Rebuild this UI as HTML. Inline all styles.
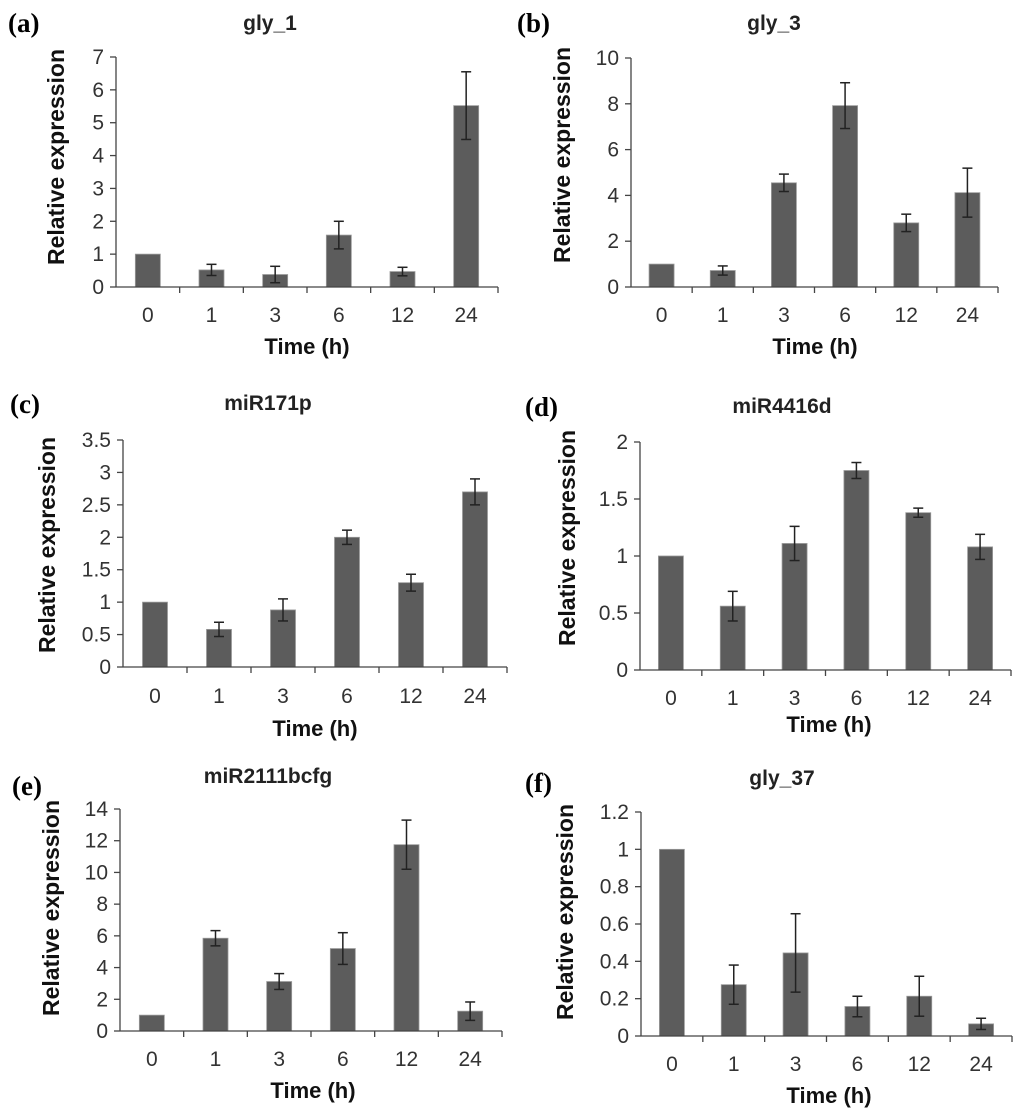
<!DOCTYPE html>
<html><head><meta charset="utf-8"><style>
html,body{margin:0;padding:0;background:#fff;}
svg{display:block;}
</style></head><body>
<svg id="fig" width="1024" height="1117" xmlns="http://www.w3.org/2000/svg"></svg>
<script>
const categories = ["0","1","3","6","12","24"];
const valuesA = [1, 0.52, 0.38, 1.58, 0.47, 5.52];
const errorsA = [0, 0.17, 0.25, 0.42, 0.13, 1.03];
const valuesB = [1, 0.72, 4.55, 7.92, 2.8, 4.12];
const errorsB = [0, 0.2, 0.38, 1.0, 0.38, 1.07];
const valuesC = [1, 0.58, 0.88, 2.0, 1.3, 2.7];
const errorsC = [0, 0.11, 0.17, 0.11, 0.13, 0.2];
const valuesD = [1, 0.56, 1.11, 1.75, 1.38, 1.08];
const errorsD = [0, 0.13, 0.15, 0.07, 0.04, 0.11];
const valuesE = [1, 5.85, 3.12, 5.2, 11.75, 1.25];
const errorsE = [0, 0.48, 0.5, 1.0, 1.55, 0.58];
const valuesF = [1, 0.275, 0.445, 0.158, 0.213, 0.065];
const errorsF = [0, 0.105, 0.21, 0.055, 0.107, 0.03];
const ticksA = ["0","1","2","3","4","5","6","7"];
const ticksB = ["0","2","4","6","8","10"];
const ticksC = ["0","0.5","1","1.5","2","2.5","3","3.5"];
const ticksD = ["0","0.5","1","1.5","2"];
const ticksE = ["0","2","4","6","8","10","12","14"];
const ticksF = ["0","0.2","0.4","0.6","0.8","1","1.2"];

const NS="http://www.w3.org/2000/svg";
const svg=document.getElementById('fig');
function mk(tag,attrs,parent){const e=document.createElementNS(NS,tag);for(const k in attrs)e.setAttribute(k,attrs[k]);(parent||svg).appendChild(e);return e;}

const panels=[
 {id:'a',title:'gly_1',vals:valuesA,errs:errorsA,ticks:ticksA,ax:116,top:57,bot:287,right:498,titleX:270,titleY:30,letX:8,letY:32,ylX:58,ylY:157,xlY:322,tY:354,tX:307},
 {id:'b',title:'gly_3',vals:valuesB,errs:errorsB,ticks:ticksB,ax:631,top:58,bot:287,right:998,titleX:774,titleY:30,letX:517,letY:32,ylX:564,ylY:155,xlY:322,tY:354,tX:815},
 {id:'c',title:'miR171p',vals:valuesC,errs:errorsC,ticks:ticksC,ax:123,top:440,bot:667,right:507,titleX:268,titleY:410,letX:10,letY:413,ylX:49,ylY:545,xlY:703,tY:736,tX:315},
 {id:'d',title:'miR4416d',vals:valuesD,errs:errorsD,ticks:ticksD,ax:640,top:442,bot:670,right:1011,titleX:782,titleY:413,letX:525,letY:416,ylX:569,ylY:538,xlY:705,tY:732,tX:829},
 {id:'e',title:'miR2111bcfg',vals:valuesE,errs:errorsE,ticks:ticksE,ax:120,top:809,bot:1031,right:502,titleX:268,titleY:783,letX:12,letY:795,ylX:53,ylY:908,xlY:1066,tY:1098,tX:313},
 {id:'f',title:'gly_37',vals:valuesF,errs:errorsF,ticks:ticksF,ax:641,top:812,bot:1036,right:1012,titleX:782,titleY:785,letX:525,letY:792,ylX:567,ylY:912,xlY:1071,tY:1103,tX:829}
];

panels.forEach(p=>{
  const g=mk('g',{});
  
  
  const tmax=parseFloat(p.ticks[p.ticks.length-1]);
  const y=v=>p.bot-(v/tmax)*(p.bot-p.top);
  const cw=(p.right-p.ax)/categories.length;
  const x=i=>p.ax+cw*(i+0.5);
  const lt=mk('text',{x:p.letX,y:p.letY,'font-family':'Liberation Serif, serif','font-weight':'bold','font-size':'27',fill:'#000'},g);
  lt.textContent='('+p.id+')';
  
  
  const tt=mk('text',{x:p.titleX,y:p.titleY,'text-anchor':'middle','font-family':'Liberation Sans, sans-serif','font-weight':'bold','font-size':'21',fill:'#222'},g);
  tt.textContent=p.title;
  
  
  const yl=mk('text',{x:p.ylX,y:p.ylY,'text-anchor':'middle','font-family':'Liberation Sans, sans-serif','font-weight':'bold','font-size':'23',fill:'#111',transform:`rotate(-90 ${p.ylX} ${p.ylY})`,'dominant-baseline':'middle'},g);
  yl.textContent='Relative expression';
  
  
  const xt=mk('text',{x:p.tX,y:p.tY,'text-anchor':'middle','font-family':'Liberation Sans, sans-serif','font-weight':'bold','font-size':'22',fill:'#111'},g);
  xt.textContent='Time (h)';
  
  
  p.ticks.forEach(t=>{
    const v=parseFloat(t), yy=y(v);
    mk('line',{x1:p.ax-6,x2:p.ax,y1:yy,y2:yy,stroke:'#444','stroke-width':1.3},g);
    const tl=mk('text',{x:p.ax-12,y:yy+7,'text-anchor':'end','font-family':'Liberation Sans, sans-serif','font-size':'21',fill:'#333'},g);
    tl.textContent=t;
    
    
  });
  for(let i=1;i<=categories.length;i++){
    const xx=p.ax+cw*i;
    mk('line',{x1:xx,x2:xx,y1:p.bot,y2:p.bot+6,stroke:'#444','stroke-width':1.3},g);
  }
  categories.forEach((c,i)=>{
    const bw=25, v=p.vals[i], e=p.errs[i];
    const r=mk('rect',{x:x(i)-bw/2,y:y(v),width:bw,height:p.bot-y(v),fill:'#5c5c5c',stroke:'#9a9a9a','stroke-width':0.8},g);
    
    
    if(e>0){
      const eg=mk('g',{stroke:'#222','stroke-width':1.5},g);
      
      
      mk('line',{x1:x(i),x2:x(i),y1:y(v+e),y2:y(v-e)},eg);
      mk('line',{x1:x(i)-5,x2:x(i)+5,y1:y(v+e),y2:y(v+e)},eg);
      mk('line',{x1:x(i)-5,x2:x(i)+5,y1:y(v-e),y2:y(v-e)},eg);
    }
    const cl=mk('text',{x:x(i),y:p.xlY,'text-anchor':'middle','font-family':'Liberation Sans, sans-serif','font-size':'21',fill:'#333'},g);
    cl.textContent=c;
    
    
  });
  mk('line',{x1:p.ax,x2:p.ax,y1:p.top,y2:p.bot,stroke:'#444','stroke-width':1.3},g);
  mk('line',{x1:p.ax,x2:p.right,y1:p.bot,y2:p.bot,stroke:'#444','stroke-width':1.3},g);
});
</script>
</body></html>
